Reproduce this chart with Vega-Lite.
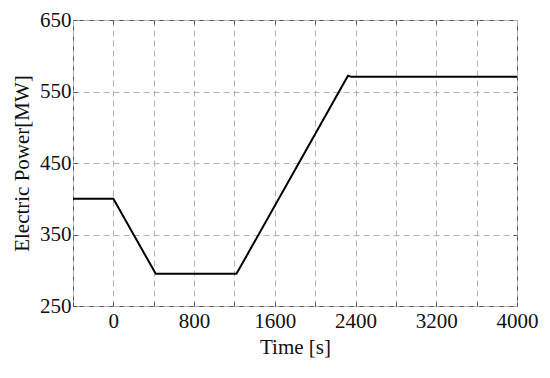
{
  "$schema": "https://vega.github.io/schema/vega-lite/v6.json",
  "autosize": "none",
  "width": 444,
  "height": 286,
  "padding": {"left": 73, "top": 20, "right": 33, "bottom": 72},
  "background": "white",
  "config": {
    "font": "Liberation Serif",
    "view": {"stroke": "#555555", "strokeWidth": 1},
    "axis": {
      "labelFont": "Liberation Serif",
      "titleFont": "Liberation Serif",
      "labelFontSize": 21,
      "titleFontSize": 21,
      "labelColor": "#111111",
      "titleColor": "#111111",
      "titleFontWeight": "normal",
      "domain": false,
      "gridColor": "#b3b3b3",
      "gridDash": [6, 4],
      "gridWidth": 1,
      "ticks": true,
      "tickSize": -4,
      "tickColor": "#555555",
      "labelFlush": false,
      "labelOverlap": false
    }
  },
  "data": {
    "values": [
      {"t": -400, "p": 400},
      {"t": 0, "p": 400},
      {"t": 420, "p": 295},
      {"t": 1220, "p": 295},
      {"t": 2325, "p": 572},
      {"t": 2360, "p": 570.5},
      {"t": 4000, "p": 570.5}
    ]
  },
  "resolve": {"axis": {"x": "independent", "y": "independent"}},
  "layer": [
    {
      "mark": {"type": "line", "color": "black", "strokeWidth": 2, "clip": true},
      "encoding": {
        "x": {
          "field": "t", "type": "quantitative",
          "scale": {"domain": [-400, 4000], "nice": false, "zero": false},
          "axis": {
            "title": "Time [s]",
            "values": [-400, 0, 400, 800, 1200, 1600, 2000, 2400, 2800, 3200, 3600, 4000],
            "format": "d",
            "labelExpr": "datum.value % 800 == 0 ? datum.label : ''",
            "labelPadding": 8,
            "titlePadding": 5,
            "grid": true
          }
        },
        "y": {
          "field": "p", "type": "quantitative",
          "scale": {"domain": [250, 650], "nice": false, "zero": false},
          "axis": {
            "title": "Electric Power[MW]",
            "values": [250, 350, 450, 550, 650],
            "format": "d",
            "labelPadding": 6,
            "titlePadding": 7,
            "grid": true
          }
        }
      }
    },
    {
      "mark": {"type": "line", "opacity": 0},
      "encoding": {
        "x": {
          "field": "t", "type": "quantitative",
          "axis": {
            "orient": "top",
            "title": null,
            "labels": false,
            "grid": false,
            "values": [0, 400, 800, 1200, 1600, 2000, 2400, 2800, 3200, 3600]
          }
        },
        "y": {
          "field": "p", "type": "quantitative",
          "axis": {
            "orient": "right",
            "title": null,
            "labels": false,
            "grid": false,
            "values": [350, 450, 550]
          }
        }
      }
    }
  ]
}
